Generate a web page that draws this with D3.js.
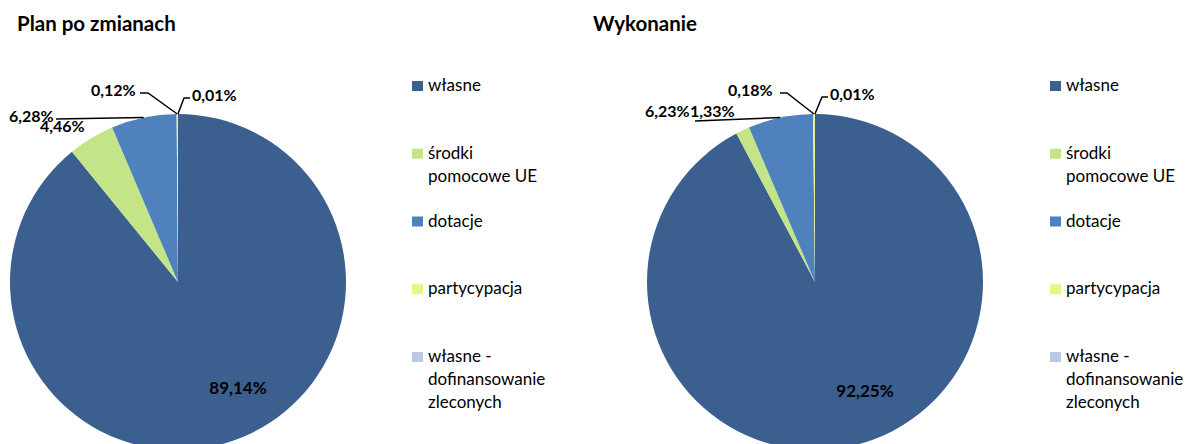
<!DOCTYPE html>
<html lang="pl">
<head>
  <meta charset="UTF-8">
  <title>Plan po zmianach / Wykonanie</title>
  <style>
    body { margin: 0; background: #fff; }
    svg { display: block; }
    text { font-family: Lato, "Open Sans", sans-serif; fill: #000; }
  </style>
</head>
<body>
  <section class="plot"></section>

  <script src="https://cdn.jsdelivr.net/npm/d3@7/dist/d3.min.js"></script>
  <script>
    // Data
    const categories = ["własne", "środki pomocowe UE", "dotacje", "partycypacja", "własne - dofinansowanie zleconych"];
    const legendLines = [["własne"], ["środki", "pomocowe UE"], ["dotacje"], ["partycypacja"], ["własne -", "dofinansowanie", "zleconych"]];
    const colors = ["#3b5f8e", "#c3e487", "#4f81bd", "#e4f683", "#b8c9e3"];
    const titles = ["Plan po zmianach", "Wykonanie"];
    const planValues = [89.14, 4.46, 6.28, 0.12, 0.01];
    const wykonanieValues = [92.25, 1.33, 6.23, 0.18, 0.01];

    // Layout (label offsets from pie centre, leader points)
    const charts = [
      {
        title: titles[0], values: planValues, cx: 178, cy: 282, titleX: 17, legendX: 412,
        labels: [
          { dx: 60, dy: 112, anchor: "middle" },
          { dx: -138, dy: -150 },
          { dx: -169, dy: -160, leader: [[-122, -163]] },
          { dx: -87, dy: -186, leader: [[-38, -189], [-30, -189]] },
          { dx: 14, dy: -181, leader: [[12, -184], [6, -184]] }
        ]
      },
      {
        title: titles[1], values: wykonanieValues, cx: 815, cy: 282, titleX: 593, legendX: 1050,
        labels: [
          { dx: 50, dy: 115, anchor: "middle" },
          { dx: -125, dy: -165 },
          { dx: -170, dy: -165, leader: [[-120, -161]] },
          { dx: -87, dy: -186, leader: [[-35, -189], [-28, -189]] },
          { dx: 15, dy: -182, leader: [[13, -185], [7, -185]] }
        ]
      }
    ];

    const width = 1186, height = 444, radius = 168;
    const fmt = v => d3.format(".2f")(v).replace(".", ",") + "%";

    const svg = d3.select(".plot")
      .append("svg")
      .attr("width", width)
      .attr("height", height);

    const pie = d3.pie().sort(null).value(d => d);
    const arc = d3.arc().innerRadius(0).outerRadius(radius);
    const color = d3.scaleOrdinal().domain(categories).range(colors);

    charts.forEach(c => {
      svg.append("text")
        .attr("x", c.titleX)
        .attr("y", 31)
        .attr("font-size", "20.5px")
        .attr("font-weight", "bold")
        .text(c.title);

      const g = svg.append("g").attr("transform", `translate(${c.cx},${c.cy})`);
      const arcs = pie(c.values);

      g.selectAll("path")
        .data(arcs)
        .enter()
        .append("path")
          .attr("d", arc)
          .attr("fill", (d, i) => color(categories[i]));

      // leader lines end at the outer edge of the slice
      arcs.forEach((d, i) => {
        const lab = c.labels[i];
        if (!lab.leader) return;
        const mid = (d.startAngle + d.endAngle) / 2;
        const end = [radius * Math.sin(mid), -radius * Math.cos(mid)];
        g.append("path")
          .attr("d", d3.line()([...lab.leader, end]))
          .attr("fill", "none")
          .attr("stroke", "#000")
          .attr("stroke-width", 1.5);
      });

      g.selectAll("text.val")
        .data(arcs)
        .enter()
        .append("text")
          .attr("class", "val")
          .attr("x", (d, i) => c.labels[i].dx)
          .attr("y", (d, i) => c.labels[i].dy)
          .attr("text-anchor", (d, i) => c.labels[i].anchor || "start")
          .attr("font-size", (d, i) => i === 0 ? "17px" : "16px")
          .attr("font-weight", "bold")
          .text(d => fmt(d.data));

      // legend
      const legend = svg.append("g").attr("transform", `translate(${c.legendX},0)`);
      const ly = d3.scaleLinear().domain([0, 4]).range([81, 352]);
      categories.forEach((cat, i) => {
        const item = legend.append("g").attr("transform", `translate(0,${ly(i)})`);
        item.append("rect")
          .attr("width", 11)
          .attr("height", 10)
          .attr("fill", color(cat));
        item.selectAll("text")
          .data(legendLines[i])
          .enter()
          .append("text")
            .attr("x", 16)
            .attr("y", (d, j) => 10 + j * 23)
            .attr("font-size", "17px")
            .attr("fill", "#222")
            .text(d => d);
      });
    });
  </script>
</body>
</html>
